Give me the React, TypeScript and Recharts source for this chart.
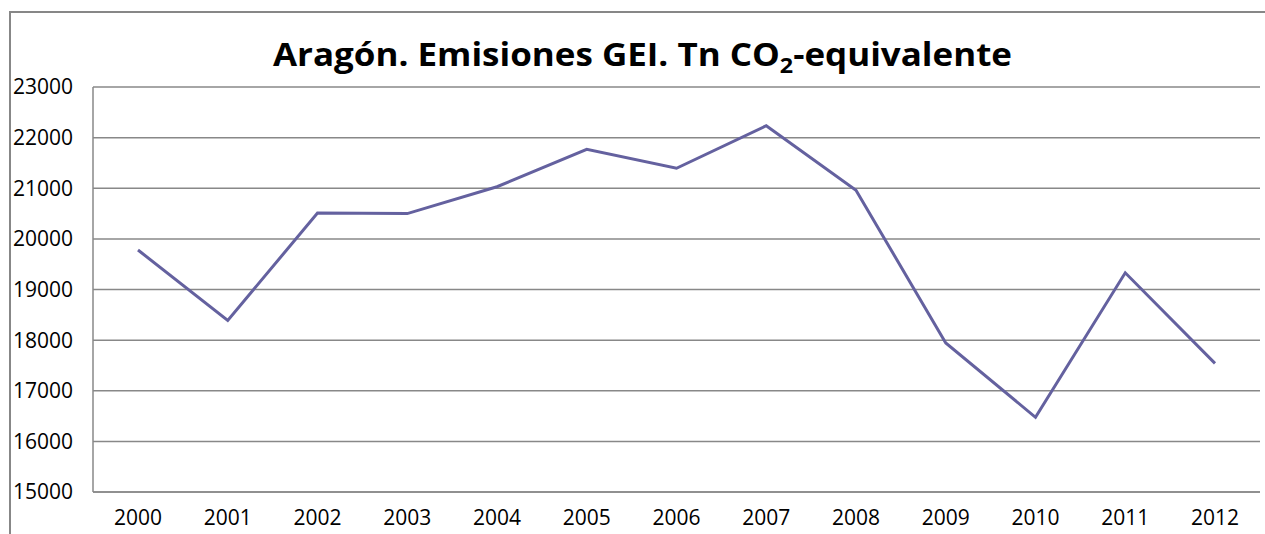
import React from 'react';
import { LineChart, Line, XAxis, YAxis, CartesianGrid } from 'recharts';

const years = ['2000', '2001', '2002', '2003', '2004', '2005', '2006', '2007', '2008', '2009', '2010', '2011', '2012'];
const emissions = [19780, 18390, 20510, 20500, 21030, 21770, 21395, 22235, 20960, 17945, 16475, 19330, 17540];
const yTicks = [15000, 16000, 17000, 18000, 19000, 20000, 21000, 22000, 23000];
const titleMain = 'Aragón. Emisiones GEI. Tn CO';
const titleSub = '2';
const titleEnd = '-equivalente';

const data = years.map((y, i) => ({ year: y, value: emissions[i] }));

const FONT = '"Open Sans", "Liberation Sans", sans-serif';
const GRID = '#888888';

export default function App() {
  return (
    <div style={{ position: 'absolute', left: 0, top: 0, width: 1265, height: 534, overflow: 'hidden', background: '#fff' }}>
      <div
        style={{
          position: 'absolute',
          left: 9,
          top: 11,
          width: 1400,
          height: 700,
          border: '2px solid #878787',
          boxSizing: 'border-box',
        }}
      />
      <div style={{ position: 'absolute', left: 0, top: 0 }}>
        <LineChart width={1265} height={534} data={data} margin={{ top: 87, right: 5, bottom: 0, left: 0 }}>
          <CartesianGrid vertical={false} stroke={GRID} strokeWidth={1.5} />
          <XAxis
            dataKey="year"
            height={42}
            padding={{ left: 45, right: 45 }}
            tickLine={false}
            tickSize={0}
            tickMargin={18}
            axisLine={{ stroke: GRID, strokeWidth: 1.5 }}
            tick={{ fill: '#000', fontSize: 21, fontFamily: FONT }}
            interval={0}
          />
          <YAxis
            width={93}
            domain={[15000, 23000]}
            ticks={yTicks}
            interval={0}
            tickLine={false}
            tickSize={0}
            tickMargin={20}
            axisLine={{ stroke: GRID, strokeWidth: 1.5 }}
            tick={{ fill: '#000', fontSize: 21, fontFamily: FONT }}
          />
          <Line
            type="linear"
            dataKey="value"
            stroke="#64619f"
            strokeWidth={3}
            dot={false}
            activeDot={false}
            isAnimationActive={false}
          />
        </LineChart>
      </div>
      <svg width={1265} height={534} style={{ position: 'absolute', left: 0, top: 0, pointerEvents: 'none' }}>
        <text
          x={273}
          y={66}
          textLength={739}
          lengthAdjust="spacingAndGlyphs"
          fontFamily={FONT}
          fontWeight="bold"
          fontSize={33}
          fill="#000"
        >
          {titleMain}
          <tspan dy={7} fontSize={22}>{titleSub}</tspan>
          <tspan dy={-7}>{titleEnd}</tspan>
        </text>
      </svg>
    </div>
  );
}
